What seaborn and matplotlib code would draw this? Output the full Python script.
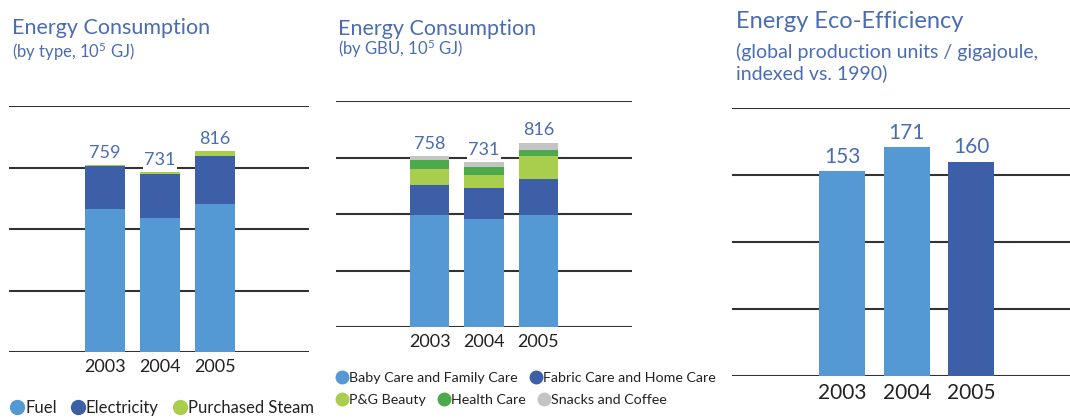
import matplotlib
matplotlib.use('Agg')
import matplotlib.pyplot as plt
import seaborn as sns
from matplotlib.lines import Line2D

# Données
years = ['2003', '2004', '2005']

# Consommation par type (10^5 GJ)
fuel = [581, 545, 600]
electricity = [175, 178, 195]
steam = [3, 8, 21]
type_labels = ['Fuel', 'Electricity', 'Purchased Steam']

# Consommation par GBU (10^5 GJ)
baby = [497, 477, 495]
fabric = [132, 140, 158]
beauty = [72, 55, 105]
health = [36, 34, 27]
snacks = [21, 25, 31]
gbu_labels = ['Baby Care and Family Care', 'Fabric Care and Home Care',
              'P&G Beauty', 'Health Care', 'Snacks and Coffee']

# Eco-efficacité (indice vs 1990)
efficiency = [153, 171, 160]

LIGHT = '#5498d4'
DARK = '#3c5fa8'
LGREEN = '#a9cd4c'
GREEN = '#4caa4c'
GRAY = '#c4c4c4'
TITLE = '#4a6cb3'

sns.set_style('white')
plt.rcParams['font.family'] = ['Lato', 'DejaVu Sans']
plt.rcParams['mathtext.fontset'] = 'custom'
plt.rcParams['mathtext.rm'] = 'Lato'
plt.rcParams['mathtext.it'] = 'Lato'

W, H = 1070, 418
fig = plt.figure(figsize=(W / 100, H / 100), dpi=100)


def make_ax(x0, x1, ytop, ybot):
    return fig.add_axes([x0 / W, 1 - ybot / H, (x1 - x0) / W, (ybot - ytop) / H])


def stacked(ax, layers, colors, width):
    # couches cumulées, de la plus haute à la plus basse
    cum = []
    run = [0] * len(years)
    for layer in layers:
        run = [a + b for a, b in zip(run, layer)]
        cum.append(run)
    for top, c in reversed(list(zip(cum, colors))):
        sns.barplot(x=years, y=top, color=c, saturation=1, width=width, ax=ax,
                    zorder=3, linewidth=0)
    return cum[-1]


def style(ax, ticks, ylim, xlim, fs):
    ax.set_ylim(*ylim)
    ax.set_xlim(*xlim)
    ax.set_yticks(ticks)
    ax.set_yticklabels([])
    ax.grid(axis='y', color='#333333', lw=1.5)
    ax.grid(axis='x', visible=False)
    ax.set_axisbelow(True)
    for s in ax.spines.values():
        s.set_visible(False)
    ax.tick_params(axis='both', length=0)
    ax.tick_params(axis='x', labelsize=fs, labelcolor='#222222', pad=5)
    ax.set_xlabel('')
    ax.set_ylabel('')


def labels(ax, values, fs):
    for i, v in enumerate(values):
        ax.annotate(str(v), (i, v), xytext=(0, 3), textcoords='offset points',
                    ha='center', va='bottom', fontsize=fs, color=TITLE,
                    bbox=dict(facecolor='white', edgecolor='none', pad=1), zorder=4)


# Graphique 1 : par type
ax1 = make_ax(9, 309, 106, 352)
tot1 = stacked(ax1, [fuel, electricity, steam], [LIGHT, DARK, LGREEN], 0.73)
style(ax1, [0, 250, 500, 750, 1000], (0, 1000), (-1.74, 3.71), 13)
labels(ax1, tot1, 13)
fig.text(12 / W, 1 - 34 / H, 'Energy Consumption', fontsize=15.5, color=TITLE)
fig.text(12 / W, 1 - 58 / H, '(by type, 10$^5$ GJ)', fontsize=12, color=TITLE)

# Graphique 2 : par GBU
ax2 = make_ax(336, 632, 101, 327)
tot2 = stacked(ax2, [baby, fabric, beauty, health, snacks],
               [LIGHT, DARK, LGREEN, GREEN, GRAY], 0.73)
style(ax2, [0, 250, 500, 750, 1000], (0, 1000), (-1.72, 3.72), 13)
labels(ax2, tot2, 13)
fig.text(338 / W, 1 - 35 / H, 'Energy Consumption', fontsize=15.5, color=TITLE)
fig.text(338 / W, 1 - 55 / H, '(by GBU, 10$^5$ GJ)', fontsize=12, color=TITLE)

# Graphique 3 : éco-efficacité
ax3 = make_ax(732, 1070, 108, 376)
sns.barplot(x=years, y=efficiency, hue=years, palette=[LIGHT, LIGHT, DARK],
            saturation=1, width=0.71, legend=False, ax=ax3, zorder=3, linewidth=0)
style(ax3, [0, 50, 100, 150, 200], (0, 200), (-1.71, 3.53), 15)
labels(ax3, efficiency, 15)
fig.text(736 / W, 1 - 28 / H, 'Energy Eco-Efficiency', fontsize=17, color=TITLE)
fig.text(736 / W, 1 - 79 / H, '(global production units / gigajoule,\nindexed vs. 1990)',
         fontsize=14, color=TITLE, linespacing=1.2)


# Légendes
def legend(labels_, colors, x, y, fs=10.3, ms=9):
    handles = [Line2D([], [], marker='o', ls='', markersize=ms, color=c) for c in colors]
    fig.legend(handles, labels_, loc='center left', bbox_to_anchor=(x / W, 1 - y / H),
               ncol=len(labels_), frameon=False, borderpad=0, borderaxespad=0,
               handlelength=0.7, handletextpad=0.15, columnspacing=0.9,
               fontsize=fs, labelcolor='#222222')


legend(type_labels, [LIGHT, DARK, LGREEN], 11, 408, fs=12, ms=10)
legend(gbu_labels[:2], [LIGHT, DARK], 337, 378)
legend(gbu_labels[2:], [LGREEN, GREEN, GRAY], 337, 400)

fig.savefig('out.png', dpi=100)
